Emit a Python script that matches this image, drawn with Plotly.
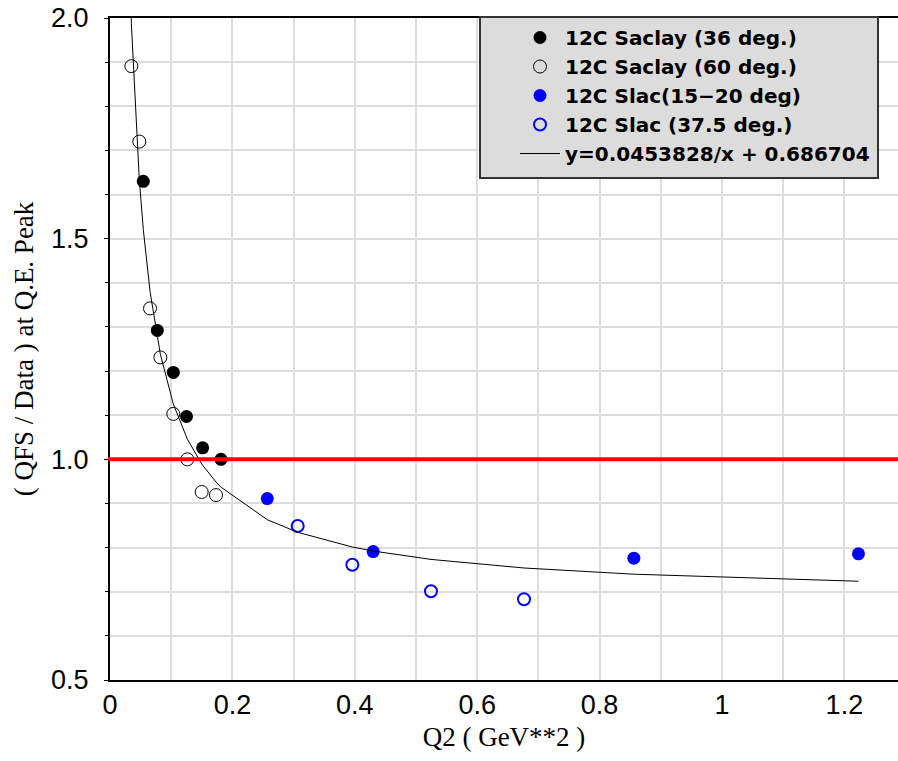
import plotly.graph_objects as go

# Data
saclay36_x = [0.0544, 0.0773, 0.1035, 0.125, 0.1514, 0.1814]
saclay36_y = [1.630, 1.292, 1.197, 1.097, 1.026, 1.000]

saclay60_x = [0.0349, 0.0479, 0.0654, 0.0823, 0.1035, 0.1264, 0.1498, 0.1732]
saclay60_y = [1.891, 1.720, 1.342, 1.231, 1.103, 1.000, 0.926, 0.919]

slac1520_x = [0.257, 0.430, 0.856, 1.223]
slac1520_y = [0.911, 0.791, 0.776, 0.786]

slac375_x = [0.3067, 0.396, 0.5245, 0.6765]
slac375_y = [0.849, 0.761, 0.701, 0.683]

# Fit: y = a/x + b, evaluated at the data Q2 values (plus a start point)
fit_a = 0.0453828
fit_b = 0.686704
fit_start_x = [0.030]

fit_x = sorted(set(fit_start_x + saclay36_x + saclay60_x + slac1520_x + slac375_x))
fit_y = [fit_a / x + fit_b for x in fit_x]

W, H = 898, 761
ML, MR, MT, MB = 110, 0, 18, 81
PW, PH = W - ML - MR, H - MT - MB


def px_x(p):
    return (p - ML) / PW


def px_y(p):
    return 1 - (p - MT) / PH


legend_font = dict(family="DejaVu Sans, Liberation Sans, sans-serif", size=20, color="black")

fig = go.Figure()
fig.add_trace(go.Scatter(x=saclay36_x, y=saclay36_y, mode="markers",
                         name="<b>12C Saclay (36 deg.)</b>",
                         marker=dict(symbol="circle", size=13, color="black")))
fig.add_trace(go.Scatter(x=saclay60_x, y=saclay60_y, mode="markers",
                         name="<b>12C Saclay (60 deg.)</b>",
                         marker=dict(symbol="circle-open", size=13, color="black", line=dict(width=1))))
fig.add_trace(go.Scatter(x=slac1520_x, y=slac1520_y, mode="markers",
                         name="<b>12C Slac(15\u221220 deg)</b>",
                         marker=dict(symbol="circle", size=13, color="blue")))
fig.add_trace(go.Scatter(x=slac375_x, y=slac375_y, mode="markers",
                         name="<b>12C Slac (37.5 deg.)</b>",
                         marker=dict(symbol="circle-open", size=12, color="blue", line=dict(width=2))))
fig.add_trace(go.Scatter(x=fit_x, y=fit_y, mode="lines",
                         name="<b>y=0.0453828/x + 0.686704</b>",
                         line=dict(color="black", width=1)))

# red reference line at 1.0
fig.add_shape(type="line", xref="paper", yref="y", x0=px_x(108), x1=1, y0=1.0, y1=1.0,
              line=dict(color="red", width=4), layer="above")

# legend box
fig.add_shape(type="rect", xref="paper", yref="paper",
              x0=px_x(480), x1=px_x(878), y0=px_y(178), y1=px_y(17),
              fillcolor="#dcdcdc", line=dict(color="#333333", width=2), layer="above")

tick_font = dict(family="Liberation Sans, Arial, sans-serif", size=27, color="black")
title_font = dict(family="Liberation Serif, Times New Roman, serif", size=27, color="black")

fig.update_layout(
    width=W, height=H,
    margin=dict(l=ML, r=MR, t=MT, b=MB),
    paper_bgcolor="white", plot_bgcolor="white",
    showlegend=True,
    legend=dict(x=px_x(515), y=px_y(18), xanchor="left", yanchor="top",
                bgcolor="rgba(0,0,0,0)", borderwidth=0,
                font=legend_font, itemwidth=40, tracegroupgap=0),
    xaxis=dict(range=[0, 1.2876], dtick=0.2, tick0=0, showgrid=True,
               gridcolor="#dddddd", gridwidth=1.5,
               minor=dict(dtick=0.1, showgrid=True, gridcolor="#dddddd", gridwidth=1.5),
               showline=True, linecolor="black", linewidth=2, mirror=True,
               ticks="", tickfont=tick_font, zeroline=False,
               title=dict(text="Q2 ( GeV**2 )", font=title_font, standoff=8)),
    yaxis=dict(range=[0.5, 2.0], dtick=0.5, tick0=0.5, showgrid=True,
               gridcolor="#dddddd", gridwidth=1.5,
               minor=dict(dtick=0.1, showgrid=True, gridcolor="#dddddd", gridwidth=1.5,
                          ticks="outside", ticklen=3, tickcolor="black"),
               showline=True, linecolor="black", linewidth=2,
               ticks="outside", ticklen=4, tickcolor="black", ticklabelstandoff=10,
               tickfont=tick_font, zeroline=False, tickformat=".1f",
               title=dict(text="( QFS / Data ) at Q.E. Peak", font=title_font, standoff=10)),
)

fig.write_html("out.html")
